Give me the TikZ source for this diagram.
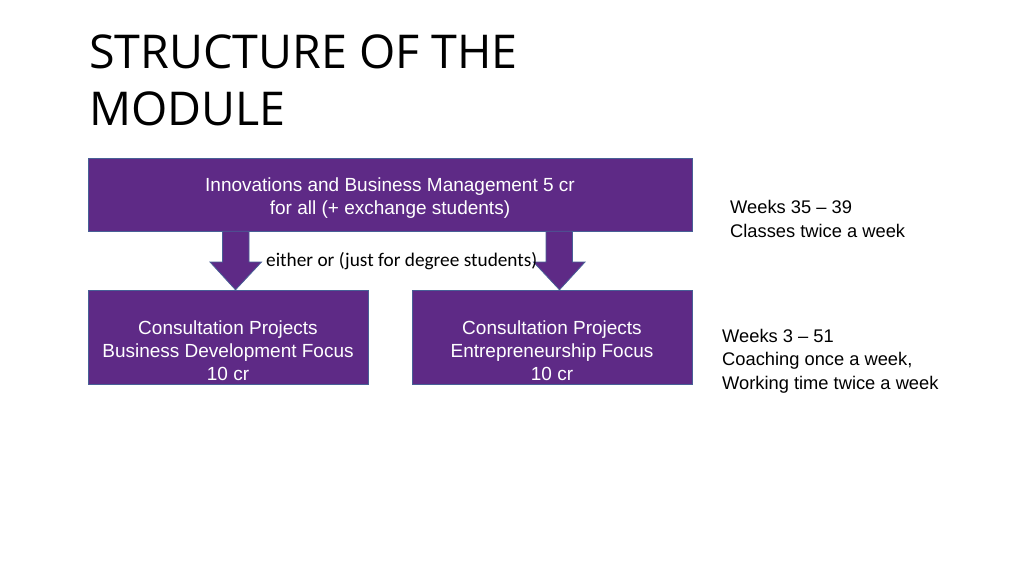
\documentclass[tikz,border=0pt]{standalone}
\usepackage{fontspec}
\setmainfont{Liberation Sans}
\newfontfamily\titlefont{Open Sans}
\newfontfamily\labelfont{Carlito}
\definecolor{boxfill}{RGB}{94,42,134}
\definecolor{boxline}{RGB}{72,96,150}
\begin{document}
\begin{tikzpicture}[x=1pt,y=-1pt,
  box/.style={draw=boxline,fill=boxfill,line width=0.8pt,inner sep=0pt},
  boxtext/.style={text=white,align=center,font=\fontsize{19}{23}\selectfont,inner sep=0pt,anchor=base},
  sidetext/.style={align=left,font=\fontsize{18.3}{23.5}\selectfont,inner sep=0pt,anchor=base west},
  arrowshape/.style={draw=boxline,fill=boxfill,line width=0.8pt,line join=miter}]
\useasboundingbox (0,0) rectangle (1024,575);
\fill[white] (0,0) rectangle (1024,575);
% title
\node[anchor=base west,inner sep=0pt,align=left,font=\titlefont\fontsize{46.6}{57}\selectfont] (title) at (89,125) {STRUCTURE OF THE\\MODULE};
% boxes
\path[box] (88,158) rectangle (692,231);
\node[inner sep=0pt,minimum width=604pt,minimum height=73pt] (top) at (390,194.5) {};
\path[box] (88,290) rectangle (368,384);
\node[inner sep=0pt,minimum width=280pt,minimum height=94pt] (left) at (228,337) {};
\path[box] (412,290) rectangle (692,384);
\node[inner sep=0pt,minimum width=280pt,minimum height=94pt] (right) at (552,337) {};
% box texts
\node[boxtext] (toptext) at (390,214) {Innovations and Business Management 5 cr\\for all (+ exchange students)};
\node[boxtext] (lefttext) at (228,380) {Consultation Projects\\Business Development Focus\\10 cr};
\node[boxtext] (righttext) at (552,380) {Consultation Projects\\Entrepreneurship Focus\\10 cr};
% arrows
\draw[arrowshape] (top.south -| 222.5,0) -- (222.5,262) -- (210,262) -- (left.north -| 235.5,0) -- (261.5,262) -- (249,262) -- (top.south -| 249,0) -- cycle;
\draw[arrowshape] (top.south -| 546,0) -- (546,262) -- (533.5,262) -- (right.north -| 559.5,0) -- (585,262) -- (572.5,262) -- (top.south -| 572.5,0) -- cycle;
% label
\node[anchor=base west,inner sep=0pt,font=\labelfont\fontsize{19.3}{22}\selectfont] (either) at (266,266) {either or (just for degree students)};
% side notes
\node[sidetext] (weeksA) at (730,237) {Weeks 35 -- 39\\Classes twice a week};
\node[sidetext] (weeksB) at (722,389) {Weeks 3 -- 51\\Coaching once a week,\\Working time twice a week};
\end{tikzpicture}
\end{document}
